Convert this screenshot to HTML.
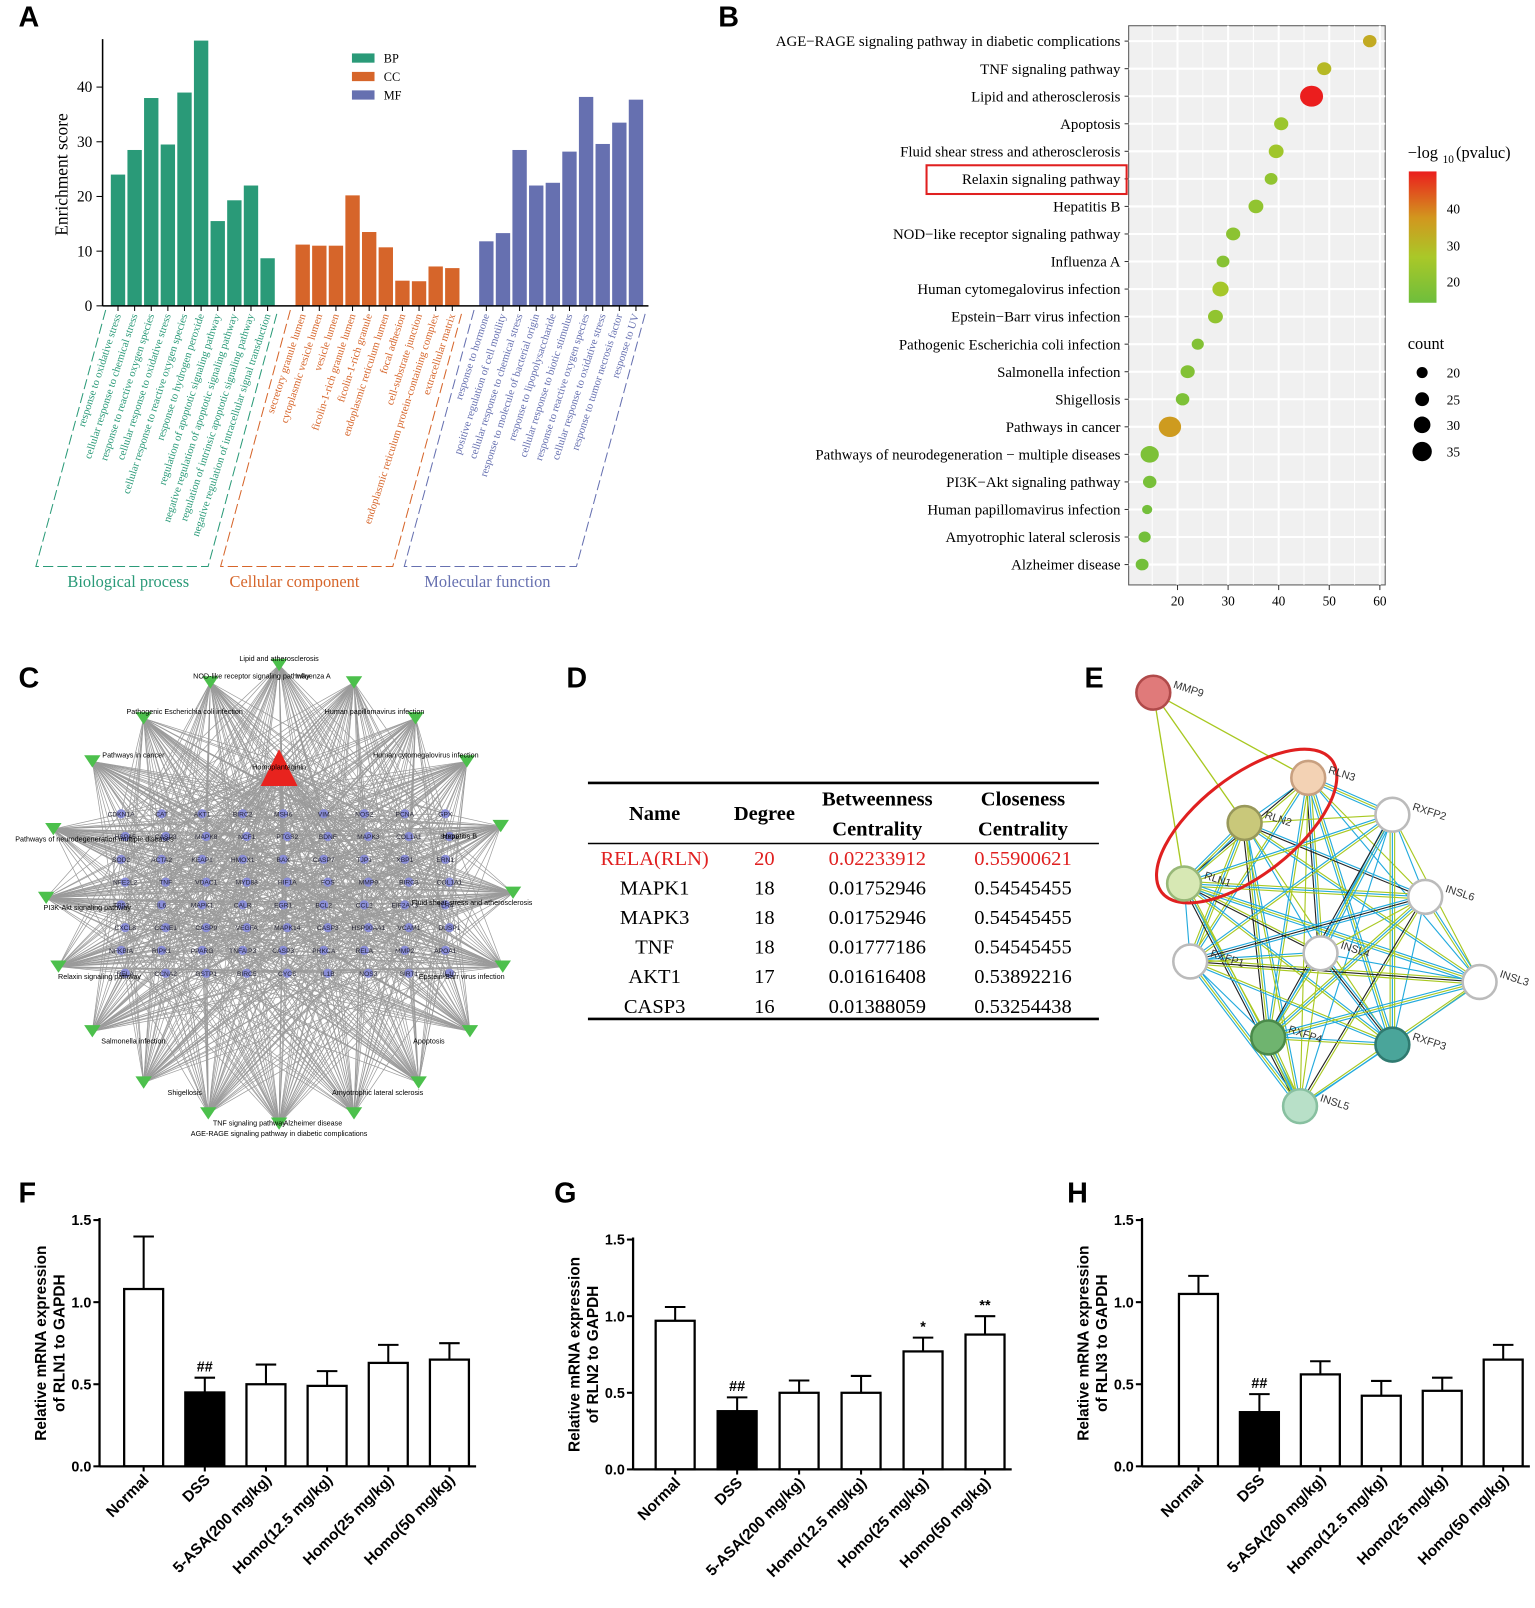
<!DOCTYPE html>
<html><head><meta charset="utf-8"><style>
html,body{margin:0;padding:0;background:#fff;}
svg{display:block;font-family:"Liberation Serif",serif;}
.sans{font-family:"Liberation Sans",sans-serif;}
</style></head><body>
<svg id="fig" width="1535" height="1608" viewBox="0 0 1496 1567" xmlns="http://www.w3.org/2000/svg">
<g class="sans" font-weight="bold" font-size="28">
<text x="18" y="26">A</text>
<text x="700" y="26">B</text>
<text x="18" y="670">C</text>
<text x="552" y="670">D</text>
<text x="1057" y="670">E</text>
<text x="18" y="1172">F</text>
<text x="540" y="1172">G</text>
<text x="1040" y="1172">H</text>
</g>
<g id="pA"></g>
<g id="pB"></g>
<g id="pC"></g>
<g id="pD"></g>
<g id="pE"></g>
<g id="pF"></g>
<g id="pG"></g>
<g id="pH"></g>
</svg>
<script>
const NS="http://www.w3.org/2000/svg";
function mk(p,tag,a,txt){const e=document.createElementNS(NS,tag);for(const k in a)e.setAttribute(k,a[k]);if(txt!==undefined)e.textContent=txt;p.appendChild(e);return e;}

const bpLabels=["response to oxidative stress","cellular response to chemical stress","response to reactive oxygen species","cellular response to oxidative stress","cellular response to reactive oxygen species","response to hydrogen peroxide","regulation of apoptotic signaling pathway","negative regulation of apoptotic signaling pathway","regulation of intrinsic apoptotic signaling pathway","negative regulation of intracellular signal transduction"];
const bpValues=[24,28.5,38,29.5,39,48.5,15.5,19.3,22,8.7];
const ccLabels=["secretory granule lumen","cytoplasmic vesicle lumen","vesicle lumen","ficolin-1-rich granule lumen","ficolin-1-rich granule","endoplasmic reticulum lumen","focal adhesion","cell-substrate junction","endoplasmic reticulum protein-containing complex","extracellular matrix"];
const ccValues=[11.2,11,11,20.2,13.5,10.7,4.6,4.5,7.2,6.9];
const mfLabels=["response to hormone","positive regulation of cell motility","cellular response to chemical stress","response to molecule of bacterial origin","response to lipopolysaccharide","cellular response to biotic stimulus","response to reactive oxygen species","cellular response to oxidative stress","response to tumor necrosis factor","response to UV"];
const mfValues=[11.8,13.3,28.5,22,22.5,28.2,38.2,29.6,33.5,37.7];
const aTicks=[0,10,20,30,40];
(function(){
const g=document.getElementById('pA');
const y=v=>298-v*5.33;
const groups=[{l:bpLabels,v:bpValues,c:"#2a9a78",x0:115,name:"Biological process",lx:125},{l:ccLabels,v:ccValues,c:"#d6652a",x0:295,name:"Cellular component",lx:287},{l:mfLabels,v:mfValues,c:"#6670b0",x0:474,name:"Molecular function",lx:475}];
const step=16.2;
groups.forEach((G,gi)=>{
 G.v.forEach((v,i)=>{const cx=G.x0+i*step;
  const r=mk(g,'rect',{x:cx-7,y:y(v),width:14,height:298-y(v),fill:G.c});
  
  mk(g,'line',{x1:cx,y1:298,x2:cx,y2:303,stroke:'#000'});
  const t=mk(g,'text',{transform:`translate(${cx+3},307) rotate(-72)`,'text-anchor':'end','font-size':'10.5',fill:G.c},G.l[i]);
  
 });
 const xa=G.x0-12, xb=G.x0+(G.v.length-1)*step+10;
 mk(g,'path',{d:`M${xa},302 L${xa-68},552 L${xb-68},552 L${xb},302`,fill:'none',stroke:G.c,'stroke-dasharray':'10,4','stroke-width':1});
 const t=mk(g,'text',{x:G.lx,y:572,'text-anchor':'middle','font-size':'16',fill:G.c},G.name);
 
});
mk(g,'line',{x1:100,y1:38,x2:100,y2:298,stroke:'#000','stroke-width':1.5});
mk(g,'line',{x1:100,y1:298,x2:632,y2:298,stroke:'#000','stroke-width':1.5});
aTicks.forEach(v=>{mk(g,'line',{x1:94,y1:y(v),x2:100,y2:y(v),stroke:'#000'});mk(g,'text',{x:90,y:y(v)+5,'text-anchor':'end','font-size':'15'},v);});
const yl=mk(g,'text',{transform:'translate(66,170) rotate(-90)','text-anchor':'middle','font-size':'17'},'Enrichment score');

[["BP","#2a9a78"],["CC","#d6652a"],["MF","#6670b0"]].forEach((d,i)=>{mk(g,'rect',{x:343,y:52+i*18,width:22,height:9,fill:d[1]});const t=mk(g,'text',{x:374,y:61+i*18,'font-size':'12'},d[0]);});
})();

const bPathways=["AGE−RAGE signaling pathway in diabetic complications","TNF signaling pathway","Lipid and atherosclerosis","Apoptosis","Fluid shear stress and atherosclerosis","Relaxin signaling pathway","Hepatitis B","NOD−like receptor signaling pathway","Influenza A","Human cytomegalovirus infection","Epstein−Barr virus infection","Pathogenic Escherichia coli infection","Salmonella infection","Shigellosis","Pathways in cancer","Pathways of neurodegeneration − multiple diseases","PI3K−Akt signaling pathway","Human papillomavirus infection","Amyotrophic lateral sclerosis","Alzheimer disease"];
const bRichX=[58,49,46.5,40.5,39.5,38.5,35.5,31,29,28.5,27.5,24,22,21,18.5,14.5,14.5,14,13.5,13];
const bLogP=[33,30,49,24,25,22,22,21,20,26,22,19,19,18,36,18,17,16,16,16];
const bCount=[20,21,34,21,22,19,22,21,19,24,22,18,21,20,33,27,20,15,18,19];
const bTicks=[20,30,40,50,60];
(function(){
const g=document.getElementById('pB');
const x=v=>1049+v*4.93, y=i=>40+i*26.85;
mk(g,'rect',{x:1100,y:25,width:250,height:545,fill:'#f0f0f0',stroke:'#555'});
for(let v=15;v<=60;v+=5) mk(g,'line',{x1:x(v),y1:25,x2:x(v),y2:570,stroke:'#fff','stroke-width':v%10?1:2});
bPathways.forEach((p,i)=>{mk(g,'line',{x1:1100,y1:y(i),x2:1350,y2:y(i),stroke:'#fff','stroke-width':2});
 const t=mk(g,'text',{x:1092,y:y(i)+5,'text-anchor':'end','font-size':'14.5'},p);
 mk(g,'line',{x1:1096,y1:y(i),x2:1100,y2:y(i),stroke:'#333'});});
function col(v){const t=Math.max(0,Math.min(1,(v-15)/34));const stops=[[0,[110,190,60]],[0.35,[170,200,40]],[0.65,[210,150,30]],[1,[235,30,30]]];
 for(let k=1;k<stops.length;k++){if(t<=stops[k][0]){const a=stops[k-1],b=stops[k];const f=(t-a[0])/(b[0]-a[0]);return 'rgb('+a[1].map((c,j)=>Math.round(c+(b[1][j]-c)*f)).join(',')+')';}}return 'rgb(235,30,30)';}
bRichX.forEach((v,i)=>{const c=mk(g,'ellipse',{cx:x(v),cy:y(i),rx:bCount[i]*0.33,ry:bCount[i]*0.3,fill:col(bLogP[i])});});
bTicks.forEach(v=>{mk(g,'line',{x1:x(v),y1:570,x2:x(v),y2:575,stroke:'#333'});mk(g,'text',{x:x(v),y:590,'text-anchor':'middle','font-size':'13'},v);});
mk(g,'rect',{x:903,y:161,width:195,height:28,fill:'none',stroke:'#e02020','stroke-width':2});
const defs=mk(g,'defs',{});const lg=mk(defs,'linearGradient',{id:'cb',x1:0,y1:1,x2:0,y2:0});
[[0,col(15)],[0.35,col(27)],[0.65,col(37)],[1,col(49)]].forEach(s=>mk(lg,'stop',{offset:s[0],'stop-color':s[1]}));
mk(g,'text',{x:1372,y:154,'font-size':'16'},'−log');mk(g,'text',{x:1406,y:159,'font-size':'11'},'10');mk(g,'text',{x:1419,y:154,'font-size':'16'},'(pvaluc)');
mk(g,'rect',{x:1373,y:167,width:27,height:128,fill:'url(#cb)'});
[[40,203],[30,239],[20,274]].forEach(d=>{mk(g,'line',{x1:1400,y1:d[1],x2:1405,y2:d[1],stroke:'#fff'});mk(g,'text',{x:1410,y:d[1]+5,'font-size':'13'},d[0]);});
mk(g,'text',{x:1372,y:340,'font-size':'16'},'count');
[[20,363],[25,389],[30,414],[35,440]].forEach(d=>{mk(g,'circle',{cx:1386,cy:d[1],r:d[0]*0.27,fill:'#000'});mk(g,'text',{x:1410,y:d[1]+5,'font-size':'13'},d[0]);});
})();

const cOuter=["Lipid and atherosclerosis","Influenza A","Human papillomavirus infection","Human cytomegalovirus infection","Hepatitis B","Fluid shear stress and atherosclerosis","Epstein-Barr virus infection","Apoptosis","Amyotrophic lateral sclerosis","Alzheimer disease","AGE-RAGE signaling pathway in diabetic complications","TNF signaling pathway","Shigellosis","Salmonella infection","Relaxin signaling pathway","PI3K-Akt signaling pathway","Pathways of neurodegeneration multiple diseases","Pathways in cancer","Pathogenic Escherichia coli infection","NOD-like receptor signaling pathway"];
const cOuterPos=[[272,648],[345,665],[405,700],[455,742],[488,805],[500,870],[490,942],[458,1005],[408,1055],[345,1085],[272,1095],[203,1085],[140,1055],[90,1005],[57,942],[45,875],[52,808],[90,742],[140,700],[205,665]];
const cGenes=["CDKN1A","CAT","AKT1","BIRC2","MSH6","VIM","NOS2","PCNA","GPX","HSPA5","CASP8","MAPK8","NCF1","PTGS2","BDNF","MAPK3","COL1A1","SOD1","SOD2","ACTA2","KEAP1","HMOX1","BAX","CASP7","TJP1","XBP1","ERN1","NFE2L2","TNF","VDAC1","MYD88","HIF1A","FOS","MMP9","BIRC3","COL1A1","TP53","IL6","MAPK1","CALR","EGR1","BCL2","CCL2","EIF2AK3","TLR4","CXCL8","CCNE1","CASP9","VEGFA","MAPK14","CASP3","HSP90AA1","VCAM1","DUSP1","NFKBIA","RIPK1","PPARG","TNFAIP3","CASP3","PRKCA","RELA","MMP2","APOA1","RELA","CCNA2","GSTP1","BIRC5","CYCS","IL1B","NOS3","SIRT1","IL10"];
(function(){
const g=document.getElementById('pC');
const inner=[];
for(let r=0;r<8;r++)for(let c=0;c<9;c++)inner.push([118+c*39.5+(r%2?4:0),793+r*22.2]);
const tri=[272,748];
const lines=mk(g,'g',{stroke:'#8a8a8a','stroke-width':0.7,opacity:0.85});
cOuterPos.forEach((p,i)=>{inner.forEach((q,j)=>{if((i*7+j*3)%5<3)mk(lines,'line',{x1:p[0],y1:p[1],x2:q[0],y2:q[1]});});});
inner.forEach(q=>mk(lines,'line',{x1:tri[0],y1:tri[1],x2:q[0],y2:q[1]}));
inner.forEach((q,j)=>{mk(g,'circle',{cx:q[0],cy:q[1],r:4.5,fill:'#8a8ed8'});mk(g,'text',{x:q[0],y:q[1]+2.5,'text-anchor':'middle','font-size':'6.5',class:'sans',fill:'#223'},cGenes[j]||'');});
cOuterPos.forEach((p,i)=>{const n=mk(g,'path',{d:`M${p[0]-8},${p[1]-6} L${p[0]+8},${p[1]-6} L${p[0]},${p[1]+6} Z`,fill:'#4cc04c'});
 const anchor=p[0]>300?'start':(p[0]<240?'end':'middle');
 mk(g,'text',{x:p[0]+(anchor==='start'?-40:anchor==='end'?40:0),y:p[1]+(p[1]<760?-4:12),'text-anchor':'middle','font-size':'7',class:'sans'},cOuter[i]);});
mk(g,'path',{d:`M${tri[0]-18},${tri[1]+18} L${tri[0]+18},${tri[1]+18} L${tri[0]},${tri[1]-18} Z`,fill:'#e8231e'});
mk(g,'text',{x:tri[0],y:tri[1]+2,'text-anchor':'middle','font-size':'7',class:'sans'},'Homoplantaginin');
})();

const dRows=[["RELA(RLN)","20","0.02233912","0.55900621"],["MAPK1","18","0.01752946","0.54545455"],["MAPK3","18","0.01752946","0.54545455"],["TNF","18","0.01777186","0.54545455"],["AKT1","17","0.01616408","0.53892216"],["CASP3","16","0.01388059","0.53254438"]];
(function(){
const g=document.getElementById('pD');const cx=[638,745,855,997];
mk(g,'line',{x1:573,y1:763,x2:1071,y2:763,stroke:'#000','stroke-width':2.5});
mk(g,'line',{x1:573,y1:822,x2:1071,y2:822,stroke:'#000','stroke-width':1.5});
mk(g,'line',{x1:573,y1:993,x2:1071,y2:993,stroke:'#000','stroke-width':2.5});
[["Name",799],["Degree",799]].forEach((h,i)=>mk(g,'text',{x:cx[i],y:h[1],'text-anchor':'middle','font-size':'20','font-weight':'bold'},h[0]));
mk(g,'text',{x:cx[2],y:785,'text-anchor':'middle','font-size':'20','font-weight':'bold'},'Betweenness');
mk(g,'text',{x:cx[2],y:814,'text-anchor':'middle','font-size':'20','font-weight':'bold'},'Centrality');
mk(g,'text',{x:cx[3],y:785,'text-anchor':'middle','font-size':'20','font-weight':'bold'},'Closeness');
mk(g,'text',{x:cx[3],y:814,'text-anchor':'middle','font-size':'20','font-weight':'bold'},'Centrality');
dRows.forEach((r,i)=>r.forEach((c,j)=>{const t=mk(g,'text',{x:cx[j],y:843+i*28.8,'text-anchor':'middle','font-size':'20',fill:i===0?'#e02020':'#000'},c);}));
})();

const eNodes=["MMP9","RLN3","RLN2","RLN1","RXFP2","INSL6","RXFP1","INSL4","INSL3","RXFP4","RXFP3","INSL5"];
const ePos=[[1124,675],[1275,758],[1213,802],[1154,861],[1357,794],[1389,874],[1160,937],[1287,929],[1442,957],[1236,1011],[1357,1018],[1267,1078]];
const eFill=["#e07a7a","#f3d2b4","#c9c87a","#d7e8b4","#fff","#fff","#fff","#fff","#fff","#6fb46f","#4aa59a","#b8e0c8"];
const eStroke=["#b04a4a","#c8a080","#98985a","#98b878","#bbb","#bbb","#bbb","#bbb","#bbb","#4a8a4a","#2f7a70","#88c0a0"];
(function(){
const g=document.getElementById('pE');
const cols=['#a8c820','#22aadd','#222','#aa22aa','#6a5ad8'];
[[0,1],[0,2],[0,3]].forEach(e=>mk(g,'line',{x1:ePos[e[0]][0],y1:ePos[e[0]][1],x2:ePos[e[1]][0],y2:ePos[e[1]][1],stroke:'#a8c820','stroke-width':1.3}));
for(let i=1;i<12;i++)for(let j=i+1;j<12;j++){const n=1+((i+j)%3);const a=ePos[i],b=ePos[j];const dx=b[0]-a[0],dy=b[1]-a[1],L=Math.hypot(dx,dy),nx=-dy/L,ny=dx/L;
 for(let k=0;k<n;k++){const o=(k-(n-1)/2)*2.2;mk(g,'line',{x1:a[0]+nx*o,y1:a[1]+ny*o,x2:b[0]+nx*o,y2:b[1]+ny*o,stroke:cols[(i*3+j+k)%5===2&&k?2:(k+i+j)%2],'stroke-width':1.1});}}
mk(g,'ellipse',{cx:1215,cy:805,rx:105,ry:48,transform:'rotate(-38 1215 805)',fill:'none',stroke:'#e02020','stroke-width':3});
eNodes.forEach((n,i)=>{const c=mk(g,'circle',{cx:ePos[i][0],cy:ePos[i][1],r:16.5,fill:eFill[i],stroke:eStroke[i],'stroke-width':2.5});
 mk(g,'text',{transform:`translate(${ePos[i][0]+19},${ePos[i][1]-5}) rotate(18)`,'font-size':'10.5',class:'sans',fill:'#333'},n);});
})();

const qCategories=["Normal","DSS","5-ASA(200 mg/kg)","Homo(12.5 mg/kg)","Homo(25 mg/kg)","Homo(50 mg/kg)"];
const fValues=[1.08,0.45,0.50,0.49,0.63,0.65];
const fErrors=[0.32,0.09,0.12,0.09,0.11,0.10];
const gValues=[0.97,0.38,0.50,0.50,0.77,0.88];
const gErrors=[0.09,0.09,0.08,0.11,0.09,0.12];
const hValues=[1.05,0.33,0.56,0.43,0.46,0.65];
const hErrors=[0.11,0.11,0.08,0.09,0.08,0.09];
const qTicks=[0,0.5,1.0,1.5];
const gStars=["","##","","","*","**"];
const fStars=["","##","","","",""];
function barChart(id,vals,errs,stars,ax,y0,y15,x0,dx,gene){
 const g=document.getElementById(id);const y=v=>y0-v*(y0-y15)/1.5;
 vals.forEach((v,i)=>{const cx=x0+i*dx;
  mk(g,'line',{x1:cx,y1:y(v),x2:cx,y2:y(v+errs[i]),stroke:'#000','stroke-width':2});
  mk(g,'line',{x1:cx-10,y1:y(v+errs[i]),x2:cx+10,y2:y(v+errs[i]),stroke:'#000','stroke-width':2});
  const r=mk(g,'rect',{x:cx-19,y:y(v),width:38,height:y0-y(v),fill:i===1?'#000':'#fff',stroke:'#000','stroke-width':2.2});
  
  if(stars[i])mk(g,'text',{x:cx,y:y(v+errs[i])-6,'text-anchor':'middle','font-size':'14',class:'sans','font-weight':'bold'},stars[i]);
  mk(g,'line',{x1:cx,y1:y0,x2:cx,y2:y0+5,stroke:'#000','stroke-width':2});
  const t=mk(g,'text',{transform:`translate(${cx+6},${y0+14}) rotate(-45)`,'text-anchor':'end','font-size':'15',class:'sans','font-weight':'bold'},qCategories[i]);
  
 });
 mk(g,'line',{x1:ax,y1:y15-2,x2:ax,y2:y0,stroke:'#000','stroke-width':2.2});
 mk(g,'line',{x1:ax,y1:y0,x2:x0+5*dx+26,y2:y0,stroke:'#000','stroke-width':2.2});
 qTicks.forEach(v=>{mk(g,'line',{x1:ax-6,y1:y(v),x2:ax,y2:y(v),stroke:'#000','stroke-width':2});mk(g,'text',{x:ax-8,y:y(v)+5,'text-anchor':'end','font-size':'14',class:'sans','font-weight':'bold'},v.toFixed(1));});
 const t1=mk(g,'text',{transform:`translate(${ax-52},${(y0+y15)/2}) rotate(-90)`,'text-anchor':'middle','font-size':'15',class:'sans','font-weight':'bold'},'Relative mRNA expression');
 
 mk(g,'text',{transform:`translate(${ax-34},${(y0+y15)/2}) rotate(-90)`,'text-anchor':'middle','font-size':'15',class:'sans','font-weight':'bold'},'of '+gene+' to GAPDH');
}
barChart('pF',fValues,fErrors,fStars,97,1429,1189,140,59.6,'RLN1');
barChart('pG',gValues,gErrors,gStars,617,1432,1208,658,60.4,'RLN2');
barChart('pH',hValues,hErrors,fStars,1113,1429,1189,1168,59.4,'RLN3');
</script>
</body></html>
